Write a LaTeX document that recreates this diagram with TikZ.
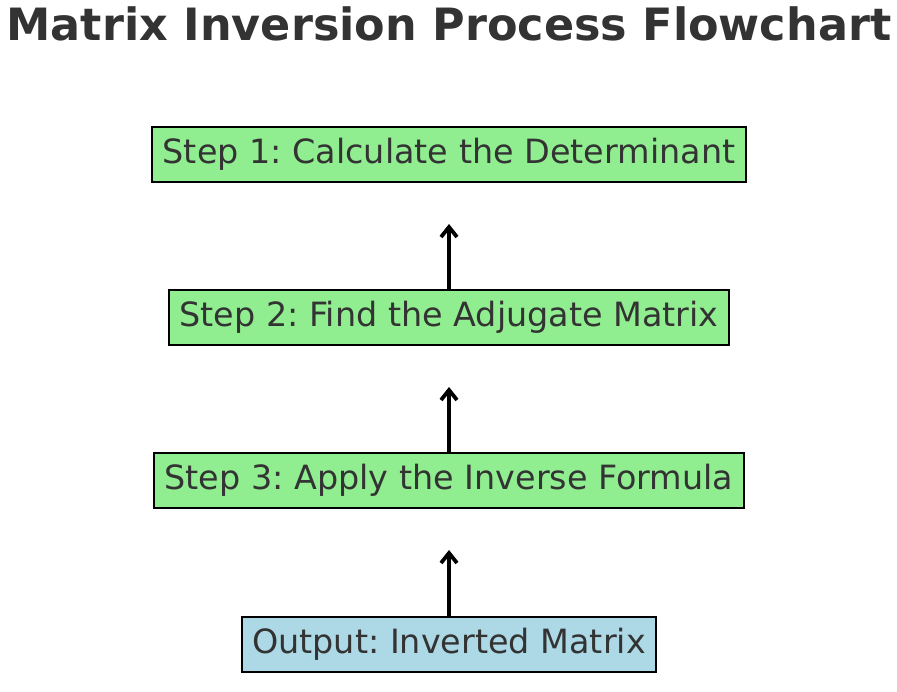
\documentclass[tikz,border=0pt]{standalone}
\usepackage{fontspec}
\setmainfont{DejaVu Sans}
\usetikzlibrary{arrows.meta}
\definecolor{txt}{HTML}{333333}
\definecolor{stepgreen}{HTML}{90EE90}
\definecolor{outblue}{HTML}{ADD8E6}
\tikzset{
  x=1pt, y=-1pt,
  stepbox/.style={draw=black, line width=2.6pt, fill=stepgreen, text=txt,
    minimum height=55pt, inner sep=0pt, font=\fontsize{33.4}{36}\selectfont},
  outbox/.style={stepbox, fill=outblue},
  flow/.style={line width=4.3pt, -{Straight Barb[length=10pt,width=16pt,line width=3.8pt]}}
}
\begin{document}
\frenchspacing
\begin{tikzpicture}
\useasboundingbox (0,0) rectangle (897,692);
\node[text=txt, font=\bfseries\fontsize{44.5}{48}\selectfont] (title) at (449,23.5) {Matrix Inversion Process Flowchart};
\node[stepbox, minimum width=594pt] (s1) at (449,154.5) {Step 1: Calculate the Determinant};
\node[stepbox, minimum width=560pt] (s2) at (449,317.5) {Step 2: Find the Adjugate Matrix};
\node[stepbox, minimum width=590pt] (s3) at (449,480.5) {Step 3: Apply the Inverse Formula};
\node[outbox, minimum width=414pt] (out) at (449,644.5) {Output: Inverted Matrix};
\coordinate (a1) at (449,224);
\coordinate (a2) at (449,387);
\coordinate (a3) at (449,550);
\draw[flow] (s2.north) -- (a1);
\draw[flow] (s3.north) -- (a2);
\draw[flow] (out.north) -- (a3);
\end{tikzpicture}
\end{document}
